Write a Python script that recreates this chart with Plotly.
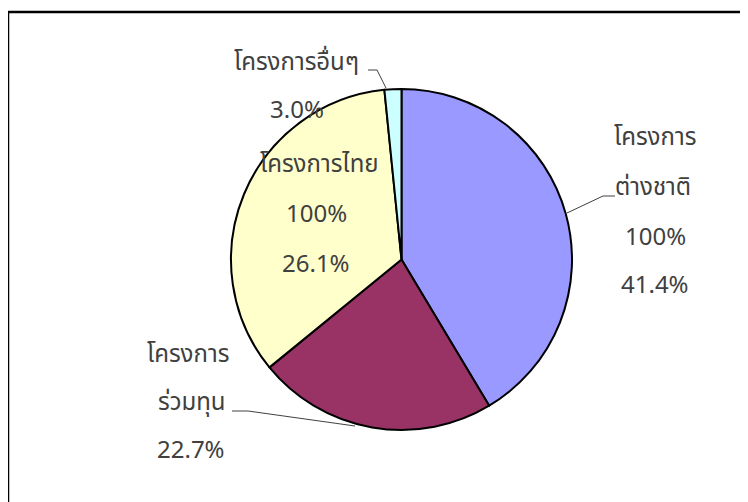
import plotly.graph_objects as go

W, H = 748, 502
OFF = 8  # page body margin shifts the figure in the screenshot

# slice order as drawn clockwise from 12 o'clock
categories = ["โครงการต่างชาติ", "โครงการร่วมทุน", "โครงการไทย", "โครงการอื่นๆ"]
shares = [41.4, 22.7, 34.3, 1.6]          # slice sizes
pct_labels = ["41.4%", "22.7%", "26.1%", "3.0%"]  # percentages as printed
colors = ["#9999FF", "#993366", "#FFFFCC", "#CCFFFF"]

FONT = "Noto Sans Thai, Tahoma, DejaVu Sans, sans-serif"
TXT = "#404040"


def px(x, y):
    return (x - OFF) / W, 1 - (y - OFF) / H


dx0, dy1 = px(231, 89)
dx1, dy0 = px(572, 430)

fig = go.Figure(go.Pie(
    labels=categories,
    values=shares,
    sort=False,
    direction="clockwise",
    rotation=0,
    textinfo="none",
    hoverinfo="label+value",
    marker=dict(colors=colors, line=dict(color="black", width=2)),
    domain=dict(x=[dx0, dx1], y=[dy0, dy1]),
    showlegend=False,
))

labels_pos = [
    ("โครงการ", 655, 138), ("ต่างชาติ", 653, 188), ("100%", 655, 238), (pct_labels[0], 655, 286),
    ("โครงการ", 188, 355), ("ร่วมทุน", 192, 403), (pct_labels[1], 191, 451),
    ("โครงการไทย", 319, 165), ("100%", 316, 215), (pct_labels[2], 316, 265),
    ("โครงการอื่นๆ", 296, 63), (pct_labels[3], 297, 111),
]
annotations = []
for txt, x, y in labels_pos:
    ax, ay = px(x, y)
    annotations.append(dict(x=ax, y=ay, xref="paper", yref="paper", text=txt,
                            showarrow=False, font=dict(family=FONT, size=24, color=TXT),
                            xanchor="center", yanchor="middle"))


def path(points):
    d = ""
    for i, (x, y) in enumerate(points):
        X, Y = px(x, y)
        d += ("M" if i == 0 else " L") + f"{X},{Y}"
    return d


fx0, fy1 = px(8, 12)
shapes = [
    # outer frame
    dict(type="rect", xref="paper", yref="paper", x0=fx0, y0=-0.2, x1=1.2, y1=fy1,
         line=dict(color="black", width=2.5)),
    # leader lines
    dict(type="path", xref="paper", yref="paper", path=path([(615, 196), (603, 196), (567, 213)]),
         line=dict(color="#404040", width=1)),
    dict(type="path", xref="paper", yref="paper", path=path([(232, 411), (248, 411), (355, 426)]),
         line=dict(color="#404040", width=1)),
    dict(type="path", xref="paper", yref="paper", path=path([(368, 70), (377, 70), (386, 88)]),
         line=dict(color="#404040", width=1)),
]

fig.update_layout(
    width=W, height=H,
    margin=dict(l=0, r=0, t=0, b=0),
    paper_bgcolor="white",
    annotations=annotations,
    shapes=shapes,
)

fig.write_html("out.html")
